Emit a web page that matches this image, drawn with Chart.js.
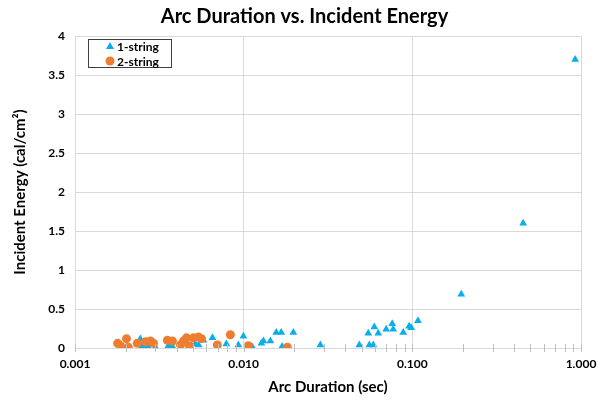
<!DOCTYPE html>
<html lang="en">
<head>
    <meta charset="utf-8" />
    <title>Arc Duration vs. Incident Energy</title>
    <script src="https://cdn.jsdelivr.net/npm/chart.js"></script>
    <style>
        body { margin: 0; background: #fff; }
        #wrap { width: 609px; height: 400px; }
    </style>
</head>
<body>
    <div id="wrap"><canvas id="arcChart"></canvas></div>
    <script>
        // 1-string: arc duration (sec) and incident energy (cal/cm2)
        const oneStringDuration = [0.00244, 0.00251, 0.00269, 0.0030, 0.00358, 0.00378, 0.00517, 0.0054, 0.00577, 0.00653,
            0.0079, 0.0093, 0.00996, 0.01127, 0.01274, 0.0131, 0.0144, 0.0156, 0.0167, 0.0169,
            0.0197, 0.0285, 0.0485, 0.0548, 0.0556, 0.0587, 0.0595, 0.0628, 0.070, 0.076,
            0.077, 0.0883, 0.0958, 0.0985, 0.108, 0.195, 0.454, 0.923];
        const oneStringEnergy = [0.115, 0.03, 0.03, 0.01, 0.03, 0.02, 0.05, 0.04, 0.10, 0.13,
            0.05, 0.04, 0.15, 0.01, 0.06, 0.09, 0.09, 0.20, 0.20, 0.02,
            0.20, 0.04, 0.04, 0.19, 0.04, 0.04, 0.27, 0.19, 0.24, 0.31,
            0.24, 0.20, 0.28, 0.26, 0.35, 0.69, 1.60, 3.70];

        // 2-string
        const twoStringDuration = [0.00179, 0.00186, 0.00202, 0.00207, 0.00234, 0.00262, 0.0028, 0.00292, 0.00353, 0.00378,
            0.00422, 0.0044, 0.00458, 0.00477, 0.00504, 0.0054, 0.00562, 0.00698, 0.00834, 0.01066, 0.01815];
        const twoStringEnergy = [0.06, 0.03, 0.12, 0.01, 0.06, 0.08, 0.09, 0.06, 0.10, 0.09,
            0.04, 0.09, 0.13, 0.03, 0.13, 0.14, 0.12, 0.04, 0.17, 0.03, 0.01];

        const seriesNames = ['1-string', '2-string'];
        const xDecades = [0.001, 0.01, 0.1, 1];
        const xTickLabels = ['0.001', '0.010', '0.100', '1.000'];
        const yTicks = [0, 0.5, 1, 1.5, 2, 2.5, 3, 3.5, 4];

        const FONT = "Lato, 'Open Sans', sans-serif";
        const BLUE = '#0AAEEC';
        const ORANGE = '#ED7D31';

        function toPoints(xs, ys) {
            return xs.map((x, i) => ({ x: x, y: ys[i] }));
        }

        function isDecade(v) {
            return xDecades.some(d => Math.abs(v - d) / d < 1e-6);
        }

        // minor tick marks crossing the x axis line
        const minorTicks = {
            id: 'minorTicks',
            afterDatasetsDraw(chart) {
                const ctx = chart.ctx;
                const xs = chart.scales.x;
                const bottom = chart.chartArea.bottom;
                ctx.save();
                ctx.strokeStyle = '#bfbfbf';
                ctx.lineWidth = 1;
                xs.ticks.forEach(t => {
                    const px = Math.round(xs.getPixelForValue(t.value)) + 0.5;
                    ctx.beginPath();
                    ctx.moveTo(px, bottom - 4);
                    ctx.lineTo(px, bottom + 4);
                    ctx.stroke();
                });
                ctx.restore();
            }
        };

        // legend box inside the plot area
        const boxLegend = {
            id: 'boxLegend',
            afterDraw(chart) {
                const ctx = chart.ctx;
                const left = 88, top = 39, w = 83, h = 28;
                ctx.save();
                ctx.fillStyle = '#fff';
                ctx.fillRect(left, top, w, h);
                ctx.strokeStyle = '#404040';
                ctx.lineWidth = 1;
                ctx.strokeRect(left + 0.5, top + 0.5, w, h);
                ctx.font = 'bold 12px ' + FONT;
                ctx.textBaseline = 'middle';
                chart.data.datasets.forEach((ds, i) => {
                    const cy = top + 7 + i * 15;
                    const cx = left + 22;
                    ctx.fillStyle = ds.backgroundColor;
                    ctx.beginPath();
                    if (ds.pointStyle === 'triangle') {
                        ctx.moveTo(cx, cy - 4);
                        ctx.lineTo(cx + 4, cy + 3);
                        ctx.lineTo(cx - 4, cy + 3);
                        ctx.closePath();
                    } else {
                        ctx.arc(cx, cy, 4.5, 0, Math.PI * 2);
                    }
                    ctx.fill();
                    ctx.fillStyle = '#000';
                    ctx.fillText(ds.label, left + 29, cy + 1);
                });
                ctx.restore();
            }
        };

        new Chart(document.getElementById('arcChart'), {
            type: 'scatter',
            data: {
                datasets: [{
                    label: seriesNames[0],
                    data: toPoints(oneStringDuration, oneStringEnergy),
                    pointStyle: 'triangle',
                    pointRadius: 4.5,
                    backgroundColor: BLUE,
                    borderColor: BLUE,
                    borderWidth: 0,
                    order: 1
                }, {
                    label: seriesNames[1],
                    data: toPoints(twoStringDuration, twoStringEnergy),
                    pointStyle: 'circle',
                    pointRadius: 4.5,
                    backgroundColor: ORANGE,
                    borderColor: ORANGE,
                    borderWidth: 0,
                    order: 0
                }]
            },
            options: {
                responsive: true,
                maintainAspectRatio: false,
                animation: false,
                layout: { padding: 0 },
                plugins: {
                    legend: { display: false },
                    tooltip: { enabled: false },
                    title: {
                        display: true,
                        text: 'Arc Duration vs. Incident Energy',
                        color: '#000',
                        font: { family: FONT, size: 20, weight: 'bold' },
                        padding: { top: 5, bottom: 7 }
                    }
                },
                scales: {
                    x: {
                        type: 'logarithmic',
                        min: 0.001,
                        max: 1,
                        afterBuildTicks(scale) {
                            const ticks = [];
                            xDecades.forEach((d, i) => {
                                const top = i < xDecades.length - 1 ? 9 : 1;
                                for (let k = 1; k <= top; k++) ticks.push({ value: +(d * k).toPrecision(3) });
                            });
                            scale.ticks = ticks;
                        },
                        afterFit(scale) { scale.height = 52; },
                        grid: {
                            color: ctx => (ctx.tick && isDecade(ctx.tick.value)) ? '#d9d9d9' : 'rgba(0,0,0,0)',
                            drawTicks: false
                        },
                        border: { color: '#d9d9d9' },
                        ticks: {
                            autoSkip: false,
                            maxRotation: 0,
                            padding: 9,
                            color: '#000',
                            font: { family: FONT, size: 12, weight: 'bold' },
                            callback: function (value) {
                                const idx = xDecades.findIndex(d => Math.abs(value - d) / d < 1e-6);
                                return idx >= 0 ? xTickLabels[idx] : '';
                            }
                        },
                        title: {
                            display: true,
                            text: 'Arc Duration (sec)',
                            color: '#000',
                            font: { family: FONT, size: 15, weight: 'bold' },
                            padding: { top: 3 }
                        }
                    },
                    y: {
                        min: 0,
                        max: 4,
                        afterBuildTicks(scale) {
                            scale.ticks = yTicks.map(v => ({ value: v }));
                        },
                        afterFit(scale) { scale.width = 75; },
                        grid: { color: '#d9d9d9', drawTicks: false },
                        border: { color: '#d9d9d9' },
                        ticks: {
                            padding: 10,
                            color: '#000',
                            font: { family: FONT, size: 12, weight: 'bold' },
                            callback: v => String(v)
                        },
                        title: {
                            display: true,
                            text: 'Incident Energy (cal/cm²)',
                            color: '#000',
                            font: { family: FONT, size: 15, weight: 'bold' },
                            padding: { top: 11, bottom: 0 }
                        }
                    },
                    // empty right-hand margin so the title centres on the whole page
                    yRight: {
                        position: 'right',
                        display: true,
                        min: 0,
                        max: 4,
                        afterFit(scale) { scale.width = 28; },
                        grid: { display: false, drawTicks: false },
                        border: { display: false },
                        ticks: { display: false }
                    }
                }
            },
            plugins: [minorTicks, boxLegend]
        });
    </script>
</body>
</html>
